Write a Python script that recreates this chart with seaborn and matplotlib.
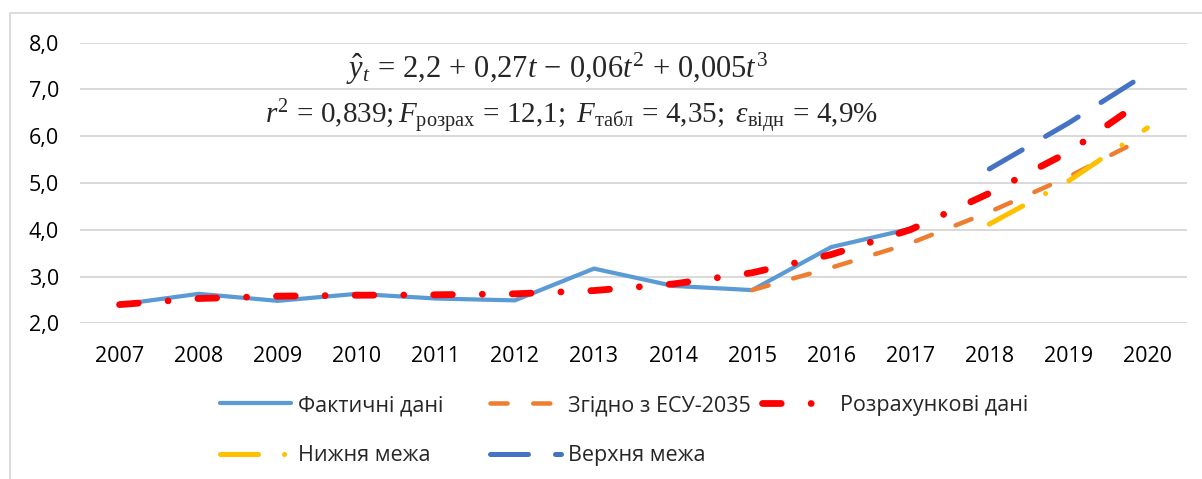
import seaborn as sns
import pandas as pd
import matplotlib.pyplot as plt
from matplotlib.patches import Rectangle

# data
years = list(range(2007, 2021))
actual_years = list(range(2007, 2018))
actual = [2.40, 2.63, 2.48, 2.63, 2.53, 2.49, 3.17, 2.80, 2.71, 3.63, 4.02]
esu_years = list(range(2015, 2021))
esu = [2.71, 3.19, 3.71, 4.38, 5.13, 6.00]
calc = [2.40, 2.53, 2.58, 2.60, 2.61, 2.63, 2.70, 2.84, 3.08, 3.47, 4.00, 4.78, 5.66, 6.83]
bound_years = [2018, 2019, 2020]
lower = [4.12, 5.04, 6.18]
upper = [5.30, 6.28, 7.35]
y_ticks = [2, 3, 4, 5, 6, 7, 8]
labels = ["Фактичні дані", "Згідно з ЕСУ-2035", "Розрахункові дані", "Нижня межа", "Верхня межа"]

sns.set_theme(style="white", rc={"figure.facecolor": "white", "axes.facecolor": "white"})
plt.rcParams["font.family"] = ["Open Sans", "DejaVu Sans"]
plt.rcParams["mathtext.fontset"] = "custom"
plt.rcParams["mathtext.rm"] = "Liberation Serif"
plt.rcParams["mathtext.it"] = "Liberation Serif:italic"
plt.rcParams["mathtext.bf"] = "Liberation Serif:bold"

W, H = 1202, 479
fig = plt.figure(figsize=(W / 100, H / 100), dpi=100)
ax = fig.add_axes([80 / W, 1 - 323.3 / H, (1187 - 80) / W, (323.3 - 42.7) / H])


def draw(x, y, color, lw_px, pattern, label):
    kw = dict(color=color, linewidth=lw_px * 0.72, label=label,
              solid_capstyle="round", dash_capstyle="round",
              solid_joinstyle="round", dash_joinstyle="round")
    if pattern is not None:
        kw["linestyle"] = (0, pattern)
    sns.lineplot(x=x, y=y, ax=ax, **kw)


draw(actual_years, actual, "#5B9BD5", 4.2, None, labels[0])
draw(esu_years, esu, "#ED7D31", 4.5, (3.8, 5.7), labels[1])
draw(years, calc, "#FF0000", 6.8, (2.75, 4.4, 0.01, 4.4), labels[2])
draw(bound_years, lower, "#FFC000", 5.0, (7.6, 5.2, 0.01, 5.3), labels[3])
draw(bound_years, upper, "#4472C4", 5.0, (7.6, 5.4), labels[4])

ax.set_xlim(2006.5, 2020.5)
ax.set_ylim(2, 8)
ax.set_xticks(years)
ax.set_xticklabels([str(y) for y in years])
ax.set_yticks(y_ticks)
ax.set_yticklabels([f"{v:.1f}".replace(".", ",") for v in y_ticks])
ax.set_xlabel("")
ax.set_ylabel("")
ax.yaxis.grid(True, color="#D9D9D9", linewidth=1.4)
ax.xaxis.grid(False)
ax.set_axisbelow(True)
sns.despine(ax=ax, left=True, bottom=True)
ax.tick_params(axis="both", length=0, labelsize=15.5, colors="black")
ax.tick_params(axis="y", pad=15)
ax.tick_params(axis="x", pad=16)

if ax.get_legend() is not None:
    ax.get_legend().remove()

handles, labs = ax.get_legend_handles_labels()
leg_kw = dict(loc="upper left", frameon=False, fontsize=15.5, handlelength=3.3,
              handletextpad=0.3, labelspacing=1.35, borderpad=0, borderaxespad=0)
order = [0, 3, 1, 4]
fig.legend([handles[i] for i in order], [labs[i] for i in order],
           bbox_to_anchor=(220 / W, 1 - 395 / H), ncol=2, columnspacing=2.2, **leg_kw)
fig.legend([handles[2]], [labs[2]],
           bbox_to_anchor=(762 / W, 1 - 395 / H), ncol=1, **leg_kw)

fig.text(557 / W, 1 - 69 / H,
         r"$\hat{y}_t\,=\,2{,}2\,+\,0{,}27t\,-\,0{,}06t^2\,+\,0{,}005t^3$",
         ha="center", va="center", fontsize=22)
fig.text(571 / W, 1 - 117 / H,
         r"$r^2\,=\,0{,}839; F_{\mathrm{розрах}}\,=\,12{,}1;\ F_{\mathrm{табл}}\,=\,4{,}35;\ \varepsilon_{\mathrm{відн}}\,=\,4{,}9\%$",
         ha="center", va="center", fontsize=21)

fig.add_artist(Rectangle((9.5 / W, -0.1), 1.2, 1 - 13.5 / H + 0.1,
                         transform=fig.transFigure, fill=False,
                         edgecolor="#D9D9D9", linewidth=1.3))

fig.savefig("out.png", dpi=100)
